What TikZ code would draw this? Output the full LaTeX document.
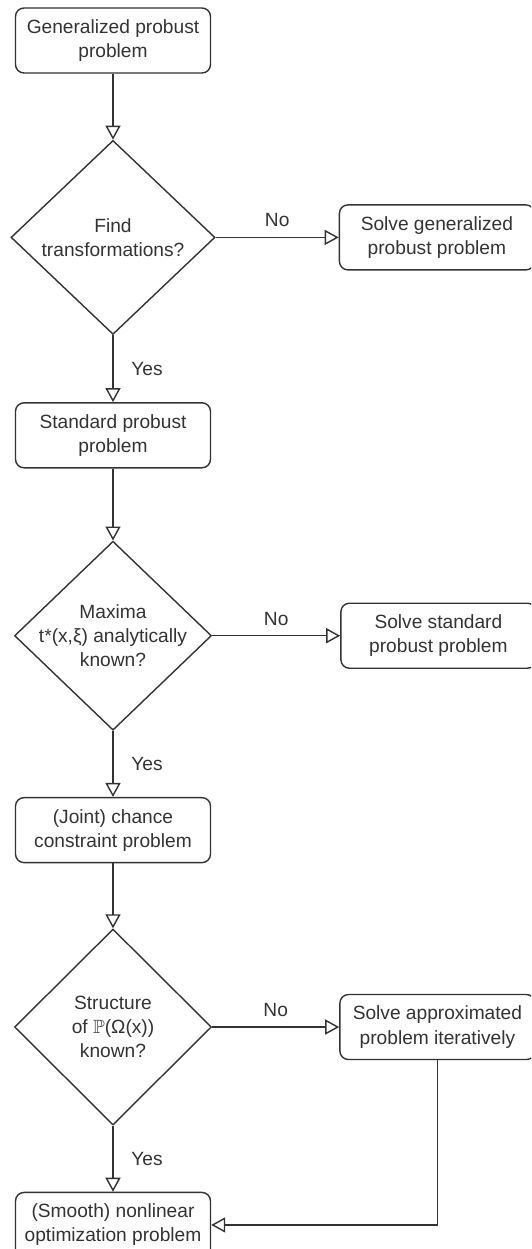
\documentclass[tikz,border=0pt]{standalone}
\usepackage{amsmath, amssymb}
\usepackage{fontspec}
\setmainfont{Liberation Sans}
\usepackage{tikz}
\usetikzlibrary{arrows.meta, positioning, shapes.geometric}

\definecolor{linegray}{HTML}{333333}

\begin{document}
\begin{tikzpicture}[
    % Styles
    procbox/.style={draw=linegray, line width=0.8pt, rounded corners=0.17cm, minimum width=3.9cm, minimum height=1.3cm,
                    align=center, text=linegray, font=\fontsize{10.9}{13.7}\selectfont},
    decision/.style={draw=linegray, line width=0.8pt, diamond, minimum width=3.94cm, minimum height=3.88cm, inner sep=0pt},
    qtext/.style={align=center, text=linegray, font=\fontsize{10.9}{13.7}\selectfont},
    flowarrow/.style={draw=linegray, line width=0.8pt, -{Triangle[open, length=0.28cm, width=0.3cm]}},
    edgelabel/.style={text=linegray, font=\fontsize{10.9}{13.7}\selectfont}
]
    % Frame of the picture (the right column and bottom box run past it)
    \path[use as bounding box, clip] (-2.26,0.81) rectangle (8.36,-24.17);

    % Main column
    \node[procbox] (genprob) {Generalized probust\\problem};
    \node[decision, minimum width=4.08cm, below=1.32cm of genprob,
          label={[qtext]center:Find\\transformations?}] (findtrans) {};
    \node[procbox, below=1.34cm of findtrans] (stdprob) {Standard probust\\problem};
    \node[decision, minimum height=3.78cm, below=1.44cm of stdprob,
          label={[qtext]center:Maxima\\t*(x,ξ) analytically\\known?}] (maxknown) {};
    \node[procbox, below=1.32cm of maxknown] (chanceprob) {(Joint) chance\\constraint problem};
    \node[decision, minimum height=3.92cm, below=1.30cm of chanceprob,
          label={[qtext]center:Structure\\of $\mathbb{P}$(Ω(x))\\known?}] (structknown) {};
    \node[procbox, below=1.32cm of structknown] (nlpprob) {(Smooth) nonlinear\\optimization problem};

    % Right column
    \node[procbox, right=2.46cm of findtrans] (solvegen) {Solve generalized\\probust problem};
    \node[procbox, right=2.56cm of maxknown] (solvestd) {Solve standard\\probust problem};
    \node[procbox, right=2.54cm of structknown] (solveapprox) {Solve approximated\\problem iteratively};

    % Arrows down the main column
    \draw[flowarrow] (genprob) -- (findtrans);
    \draw[flowarrow] (findtrans) -- node[edgelabel, midway, xshift=0.68cm] {Yes} (stdprob);
    \draw[flowarrow] (stdprob) -- (maxknown);
    \draw[flowarrow] (maxknown) -- node[edgelabel, midway, xshift=0.68cm] {Yes} (chanceprob);
    \draw[flowarrow] (chanceprob) -- (structknown);
    \draw[flowarrow] (structknown) -- node[edgelabel, midway, xshift=0.68cm] {Yes} (nlpprob);

    % Arrows to the right column
    \draw[flowarrow] (findtrans.east) -- node[edgelabel, midway, yshift=0.34cm] {No} (solvegen.west);
    \draw[flowarrow] (maxknown.east) -- node[edgelabel, midway, yshift=0.34cm] {No} (solvestd.west);
    \draw[flowarrow] (structknown.east) -- node[edgelabel, midway, yshift=0.34cm] {No} (solveapprox.west);

    % Feedback into the last box
    \draw[flowarrow] (solveapprox.south) |- (nlpprob.east);
\end{tikzpicture}
\end{document}
